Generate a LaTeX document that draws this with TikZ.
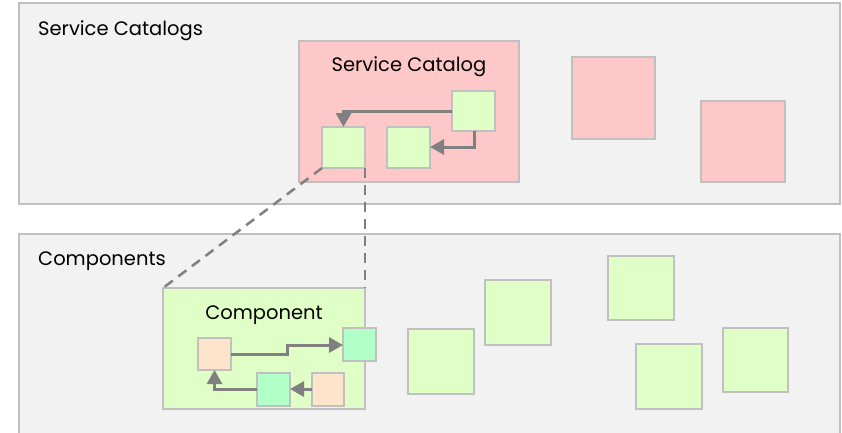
\documentclass[tikz,border=0pt]{standalone}
\usepackage{fontspec}
\setmainfont{Poppins}
\usetikzlibrary{arrows.meta}
\definecolor{bgbox}{HTML}{F2F2F2}
\definecolor{edge}{HTML}{C0C0C0}
\definecolor{pinkc}{HTML}{FFC8C8}
\definecolor{greenc}{HTML}{DFFFC6}
\definecolor{peachc}{HTML}{FFE4CC}
\definecolor{mintc}{HTML}{B2FFC8}
\definecolor{arrowc}{HTML}{808080}
\tikzset{
  box/.style={draw=edge, line width=2.5pt, inner sep=0pt, outer sep=0pt},
  lbl/.style={font=\fontsize{19.5}{22}\selectfont, text=black, inner sep=0pt},
  link/.style={draw=arrowc, line width=3pt, -{Triangle[length=14pt,width=15pt]}},
  dash link/.style={draw=arrowc, line width=2.5pt, dash pattern=on 10pt off 7pt},
}
\begin{document}
\begin{tikzpicture}[x=1pt,y=-1pt]
\useasboundingbox (0,0) rectangle (842,432);
\fill[white] (0,0) rectangle (842,432);
% outer containers
\draw[box, fill=bgbox] (19,3) rectangle (840,204);
\draw[box, fill=bgbox] (19,234) rectangle (840,445);
\node[lbl, anchor=base west] (lcat) at (38,35) {Service Catalogs};
\node[lbl, anchor=base west] (lcomp) at (38,265) {Components};

% service catalog
\node[box, fill=pinkc, minimum width=220pt, minimum height=141pt, anchor=north west] (sc) at (299,41) {};
\node[lbl, anchor=base] (sct) at (409,71) {Service Catalog};
\node[box, fill=greenc, minimum width=43pt, minimum height=41pt, anchor=north west] (a) at (322,127) {};
\node[box, fill=greenc, minimum width=43pt, minimum height=41pt, anchor=north west] (b) at (387,127) {};
\node[box, fill=greenc, minimum width=43pt, minimum height=40pt, anchor=north west] (c) at (452,91) {};
\draw[link] (c.west |- 0,111) -| (a.north);
\draw[link] (c.south -| 474,0) |- (b.east |- 0,147);

% pink others
\node[box, fill=pinkc, minimum width=83pt, minimum height=82pt, anchor=north west] (p1) at (572,57) {};
\node[box, fill=pinkc, minimum width=84pt, minimum height=81pt, anchor=north west] (p2) at (701,101) {};

% component
\node[box, fill=greenc, minimum width=202pt, minimum height=121pt, anchor=north west] (comp) at (163,288) {};
\node[lbl, anchor=base] (compt) at (264,319) {Component};
\node[box, fill=peachc, minimum width=33pt, minimum height=32pt, anchor=north west] (o1) at (198,338) {};
\node[box, fill=mintc, minimum width=33pt, minimum height=33pt, anchor=north west] (t1) at (343,328) {};
\node[box, fill=mintc, minimum width=33pt, minimum height=33pt, anchor=north west] (t2) at (257,373) {};
\node[box, fill=peachc, minimum width=32pt, minimum height=33pt, anchor=north west] (o2) at (312,373) {};
\draw[link] (o1.east |- 0,354) -- (287,354) -- (287,345) -- (t1.west |- 0,345);
\draw[link] (o2.west |- 0,389) -- (t2.east |- 0,389);
\draw[link] (t2.west |- 0,389) -| (o1.south);

% green others
\node[box, fill=greenc, minimum width=66pt, minimum height=65pt, anchor=north west] (g1) at (408,329) {};
\node[box, fill=greenc, minimum width=66pt, minimum height=65pt, anchor=north west] (g2) at (485,280) {};
\node[box, fill=greenc, minimum width=66pt, minimum height=64pt, anchor=north west] (g3) at (608,256) {};
\node[box, fill=greenc, minimum width=66pt, minimum height=65pt, anchor=north west] (g4) at (636,344) {};
\node[box, fill=greenc, minimum width=65pt, minimum height=64pt, anchor=north west] (g5) at (723,328) {};

% dashed links
\draw[dash link] (a.south west) -- (comp.north west);
\draw[dash link] (a.south east) -- (comp.north east);
\end{tikzpicture}
\end{document}
